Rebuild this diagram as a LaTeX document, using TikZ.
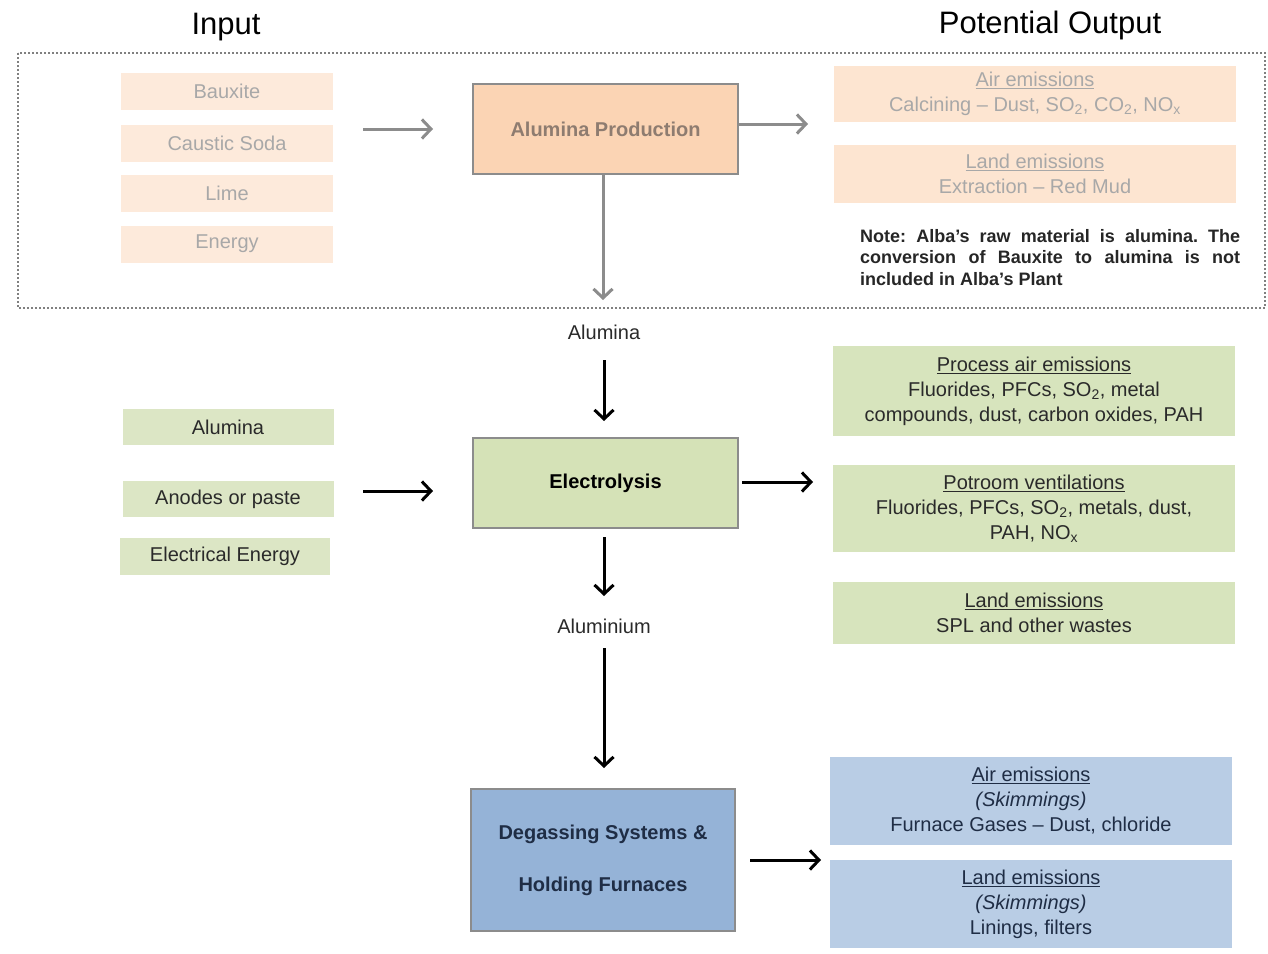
\documentclass[tikz,border=0pt]{standalone}
\usepackage{fontspec}
\setmainfont{Liberation Sans}
\usetikzlibrary{arrows.meta}

\definecolor{peachin}{HTML}{FDEADB}
\definecolor{peachout}{HTML}{FDE5D1}
\definecolor{peachmain}{HTML}{FBD4B4}
\definecolor{fadetext}{HTML}{A8A8A8}
\definecolor{fademain}{HTML}{8E7C70}
\definecolor{greenin}{HTML}{DCE6C5}
\definecolor{greenmain}{HTML}{D5E2B7}
\definecolor{greenout}{HTML}{D7E4BD}
\definecolor{bluemain}{HTML}{95B3D7}
\definecolor{blueout}{HTML}{B9CDE5}
\definecolor{navytext}{HTML}{1F2D45}
\definecolor{bodytext}{HTML}{2A2A2A}
\definecolor{edgegrey}{HTML}{8C8C8C}

\tikzset{
  body/.style={font=\fontsize{20}{25}\selectfont},
  inbox/.style={body, inner sep=0pt, minimum width=212pt, minimum height=37pt},
  mainbox/.style={draw=edgegrey, line width=2.5pt, inner sep=0pt,
    font=\bfseries\fontsize{20}{25}\selectfont, minimum width=265pt},
  outbox/.style={body, inner sep=0pt, align=center, minimum width=402pt},
  flowtop/.style={draw=gray!90, line width=3pt,
    -{Straight Barb[length=9pt,width=19pt,line width=3pt]}},
  flow/.style={draw=black, line width=3pt,
    -{Straight Barb[length=9pt,width=19pt,line width=3pt]}},
}

\begin{document}
\frenchspacing
\begin{tikzpicture}[x=1pt,y=-1pt]
\useasboundingbox (0,0) rectangle (1268,953);
\fill[white] (0,0) rectangle (1268,953);

% column headings
\node[font=\fontsize{31}{36}\selectfont, text=black] (hin) at (226,27) {Input};
\node[font=\fontsize{31}{36}\selectfont, text=black] (hout) at (1050,25) {Potential Output};

% dotted frame round the stage outside the plant
\draw[gray, line width=2pt, dash pattern=on 2pt off 2pt] (18,53) rectangle (1265,308);

% ---- alumina production stage ----
\node[inbox, fill=peachin, text=fadetext] (bauxite) at (227,91) {Bauxite};
\node[inbox, fill=peachin, text=fadetext] (caustic) at (227,143) {Caustic Soda};
\node[inbox, fill=peachin, text=fadetext] (lime) at (227,193) {Lime};
\node[inbox, fill=peachin, text=fadetext] (energy) at (227,244) {Energy};

\node[mainbox, fill=peachmain, text=fademain, minimum height=90pt] (alprod) at (605.5,129) {Alumina Production};

\node[outbox, fill=peachout, text=fadetext, minimum height=56pt] (airtop) at (1035,94)
  {\underline{Air emissions}\\Calcining -- Dust, SO\textsubscript{2}, CO\textsubscript{2}, NO\textsubscript{x}};
\node[outbox, fill=peachout, text=fadetext, minimum height=58pt] (landtop) at (1035,174)
  {\underline{Land emissions}\\Extraction -- Red Mud};

\node[anchor=north west, text width=380pt, align=justify, inner sep=0pt, text=black!85,
  font=\bfseries\fontsize{18}{21.5}\selectfont] (note) at (860,229)
  {Note: Alba’s raw material is alumina. The\linebreak conversion of Bauxite to alumina is not\linebreak included in Alba’s Plant};

\coordinate (inA) at (363,129);
\coordinate (inB) at (433,129);
\coordinate (outA) at (808,124);
\coordinate (downA) at (603,300);
\draw[flowtop] (inA) -- (inB);
\draw[flowtop] (alprod.east |- outA) -- (outA);
\draw[flowtop] (alprod.south -| downA) -- (downA);

% ---- electrolysis stage ----
\node[body, text=bodytext] (lblalumina) at (604,332) {Alumina};

\node[inbox, fill=greenin, text=bodytext, minimum width=211pt, minimum height=36pt] (alumina) at (228,427) {Alumina};
\node[inbox, fill=greenin, text=bodytext, minimum width=211pt, minimum height=36pt] (anodes) at (228,499) {Anodes or paste};
\node[inbox, fill=greenin, text=bodytext, minimum width=210pt, minimum height=37pt] (elec) at (225,556) {Electrical Energy};

\node[mainbox, fill=greenmain, text=black, minimum height=90pt] (electrolysis) at (605.5,483) {Electrolysis};

\node[outbox, fill=greenout, text=bodytext, minimum height=90pt] (procair) at (1034,391)
  {\underline{Process air emissions}\\Fluorides, PFCs, SO\textsubscript{2}, metal\\compounds, dust, carbon oxides, PAH};
\node[outbox, fill=greenout, text=bodytext, minimum height=87pt] (potroom) at (1034,508.5)
  {\underline{Potroom ventilations}\\Fluorides, PFCs, SO\textsubscript{2}, metals, dust,\\PAH, NO\textsubscript{x}};
\node[outbox, fill=greenout, text=bodytext, minimum height=62pt] (landgreen) at (1034,613)
  {\underline{Land emissions}\\SPL and other wastes};

\coordinate (elIn1) at (363,491);
\coordinate (elIn2) at (433,491);
\coordinate (elOut1) at (742,482);
\coordinate (elOut2) at (813,482);
\coordinate (elTop1) at (604,360);
\coordinate (elTop2) at (604,421);
\draw[flow] (lblalumina.south |- elTop1) -- (elTop2);
\draw[flow] (elIn1) -- (elIn2);
\draw[flow] (elOut1) -- (elOut2);

% ---- casthouse stage ----
\node[body, text=bodytext] (lblaluminium) at (604,626) {Aluminium};

\node[mainbox, fill=bluemain, text=navytext, minimum width=264pt, minimum height=142pt, align=center,
  font=\bfseries\fontsize{20}{52}\selectfont] (degas) at (603,860)
  {Degassing Systems \&\\Holding Furnaces};

\node[outbox, fill=blueout, text=navytext, minimum height=88pt] (airblue) at (1031,801)
  {\underline{Air emissions}\\\textit{(Skimmings)}\\Furnace Gases -- Dust, chloride};
\node[outbox, fill=blueout, text=navytext, minimum height=88pt] (landblue) at (1031,904)
  {\underline{Land emissions}\\\textit{(Skimmings)}\\Linings, filters};

\coordinate (alTop) at (604,537);
\coordinate (alMid) at (604,596);
\coordinate (alLow) at (604,648);
\coordinate (alBot) at (604,768);
\coordinate (dgOut1) at (750,860);
\coordinate (dgOut2) at (821,860);
\draw[flow] (alTop) -- (alMid);
\draw[flow] (alLow) -- (alBot);
\draw[flow] (dgOut1) -- (dgOut2);
\end{tikzpicture}
\end{document}
